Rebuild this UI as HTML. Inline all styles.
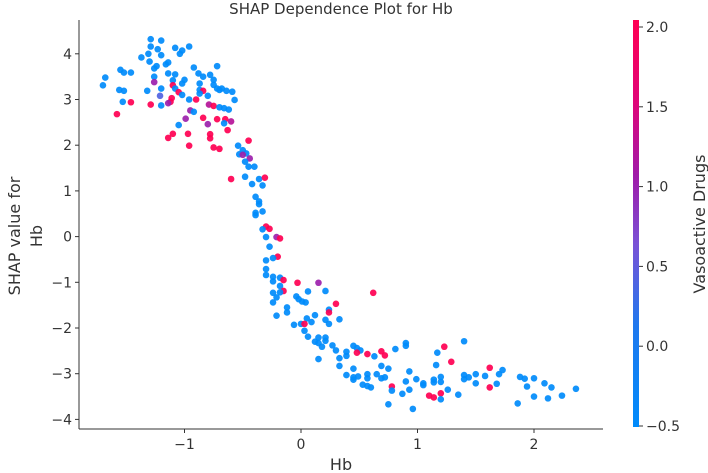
<!DOCTYPE html>
<html><head><meta charset="utf-8">
<style>
html,body{margin:0;padding:0;background:#fff;}
svg{display:block;font-family:"DejaVu Sans","Liberation Sans",sans-serif;}
</style></head>
<body>
<svg id="chart" width="708" height="473" viewBox="0 0 708 473" xmlns="http://www.w3.org/2000/svg">
<defs>
<linearGradient id="cbgrad" x1="0" y1="1" x2="0" y2="0">
<stop offset="0" stop-color="#008bfb"/>
<stop offset="0.25" stop-color="#1f78ee"/>
<stop offset="0.45" stop-color="#7a52d6"/>
<stop offset="0.62" stop-color="#a01aa8"/>
<stop offset="0.8" stop-color="#e00578"/>
<stop offset="1" stop-color="#ff0052"/>
</linearGradient>
</defs>
<text x="341" y="14" font-size="15" text-anchor="middle" fill="#333">SHAP Dependence Plot for Hb</text>
<g id="points"></g>
<g id="axes"></g>
<text x="341" y="470" font-size="16" text-anchor="middle" fill="#333">Hb</text>
<text transform="translate(20,236) rotate(-90)" font-size="16" text-anchor="middle" fill="#333"><tspan x="0" y="0">SHAP value for</tspan><tspan x="0" y="22">Hb</tspan></text>
<rect x="633" y="20" width="6" height="407" fill="url(#cbgrad)"/>
<g id="cbticks"></g>
<text transform="translate(705,224) rotate(-90)" font-size="16" text-anchor="middle" fill="#333">Vasoactive Drugs</text>
</svg>
<script>
const xTicks = [-1, 0, 1, 2];
const yTicks = [4, 3, 2, 1, 0, -1, -2, -3, -4];
const cbTicks = [2.0, 1.5, 1.0, 0.5, 0.0, -0.5];
const hbValues = [-1.29,-1.20,-1.29,-1.23,-1.08,-0.96,-1.02,-1.04,-1.31,-1.37,-1.20,-1.30,-1.14,-1.16,-1.24,-1.26,-0.72,-0.92,-1.55,-1.52,-1.46,-1.14,-1.08,-0.88,-1.26,-0.78,-0.84,-1.68,-1.00,-1.10,-0.75,-1.26,-1.02,-1.70,-0.87,-1.10,-1.08,-0.75,-0.72,-0.70,-0.87,-1.56,-1.52,-1.32,-1.20,-1.05,-0.84,-0.64,-0.59,-0.68,-0.87,-1.02,-0.80,-1.21,-1.11,-0.96,-0.90,-0.57,-1.53,-1.46,-1.12,-1.14,-1.29,-1.20,-0.79,-0.75,-0.70,-0.66,-0.62,-0.95,-0.92,-1.58,-0.84,-0.99,-0.72,-0.65,-0.60,-0.80,-0.66,-1.05,-0.63,-1.10,-0.97,-1.14,-0.78,-0.78,-0.96,-0.75,-0.70,-0.45,-0.54,-0.50,-0.53,-0.47,-0.50,-0.44,-0.48,-0.45,-0.40,-0.60,-0.48,-0.36,-0.31,-0.42,-0.33,
-0.39,-0.36,-0.36,-0.33,-0.39,-0.39,-0.30,-0.27,-0.33,-0.30,-0.21,-0.18,-0.27,-0.20,-0.24,-0.30,-0.30,-0.30,-0.24,-0.18,-0.15,-0.24,-0.18,-0.15,-0.24,-0.18,-0.21,-0.03,0.15,0.06,0.21,-0.04,-0.02,0.01,0.04,0.62,-0.24,-0.12,-0.12,0.30,0.24,0.24,-0.21,0.12,0.05,0.09,0.21,0.33,-0.06,0.00,0.03,0.24,
0.03,0.06,0.15,0.21,0.21,0.12,0.15,0.18,0.27,0.30,0.45,0.48,0.51,0.39,0.48,0.57,0.63,0.69,0.72,0.81,0.90,0.90,1.23,1.40,1.17,1.29,0.39,0.33,0.15,0.33,0.45,0.69,0.75,1.16,1.62,1.73,0.39,0.45,0.45,0.49,0.57,0.57,0.65,0.69,0.72,0.93,0.99,0.90,1.05,1.05,1.14,1.14,1.20,1.20,1.40,1.40,1.44,1.50,1.50,1.58,1.70,1.68,1.62,1.88,1.92,2.00,1.94,2.09,2.15,0.53,0.57,0.60,0.78,0.78,0.93,0.87,1.26,1.10,1.14,1.20,1.20,1.35,2.00,2.12,2.24,2.36,0.75,0.96,1.86];
const shapValues = [4.32,4.29,4.16,4.10,4.13,4.16,4.07,4.00,4.00,3.92,3.97,3.83,3.81,3.77,3.73,3.68,3.73,3.70,3.65,3.59,3.59,3.57,3.55,3.57,3.50,3.54,3.50,3.48,3.43,3.42,3.43,3.38,3.35,3.31,3.35,3.31,3.24,3.32,3.24,3.21,3.21,3.21,3.19,3.19,3.24,3.16,3.19,3.19,3.17,3.24,3.13,3.10,3.08,3.08,3.03,3.00,3.00,2.99,2.95,2.94,2.95,2.92,2.89,2.87,2.89,2.86,2.83,2.81,2.78,2.76,2.73,2.68,2.60,2.58,2.57,2.57,2.52,2.46,2.48,2.44,2.33,2.25,2.25,2.16,2.24,2.15,1.99,1.95,1.92,2.10,1.99,1.89,1.80,1.82,1.79,1.71,1.64,1.53,1.53,1.26,1.31,1.26,1.29,1.15,1.12,
0.87,0.77,0.71,0.55,0.52,0.47,0.22,0.17,0.16,-0.01,-0.01,-0.04,-0.22,-0.44,-0.47,-0.52,-0.71,-0.84,-0.88,-0.90,-0.95,-0.98,-1.08,-1.19,-1.23,-1.22,-1.33,-1.01,-1.01,-1.20,-1.19,-1.31,-1.37,-1.42,-1.44,-1.23,-1.44,-1.55,-1.66,-1.47,-1.60,-1.66,-1.73,-1.72,-1.79,-1.87,-1.82,-1.81,-1.93,-1.91,-1.91,-1.91,
-2.06,-2.19,-2.21,-2.21,-2.28,-2.30,-2.33,-2.41,-2.38,-2.49,-2.39,-2.44,-2.49,-2.52,-2.54,-2.57,-2.62,-2.51,-2.60,-2.46,-2.33,-2.39,-2.41,-2.29,-2.54,-2.74,-2.61,-2.66,-2.68,-2.83,-2.89,-2.83,-2.89,-2.81,-2.87,-2.92,-3.03,-3.08,-3.13,-3.06,-3.01,-3.10,-3.01,-3.10,-3.08,-2.95,-3.12,-3.17,-3.21,-3.25,-3.13,-3.19,-3.07,-3.18,-3.03,-3.12,-3.08,-3.01,-3.21,-3.05,-3.01,-3.22,-3.30,-3.07,-3.11,-3.10,-3.28,-3.21,-3.30,-3.24,-3.27,-3.30,-3.28,-3.37,-3.35,-3.44,-3.35,-3.48,-3.52,-3.43,-3.56,-3.46,-3.50,-3.54,-3.48,-3.33,-3.67,-3.77,-3.65];
const vasoValues = [-0.5,-0.5,-0.5,-0.5,-0.5,-0.5,-0.5,-0.5,-0.5,-0.5,-0.5,-0.5,-0.5,-0.5,-0.5,-0.5,-0.5,-0.5,-0.5,-0.5,-0.5,-0.5,-0.5,-0.5,-0.5,-0.5,-0.5,-0.5,-0.5,-0.5,-0.5,1.0,-0.5,-0.5,-0.5,2,-0.5,-0.5,-0.5,-0.5,-0.5,-0.5,-0.5,-0.5,-0.5,2,2,-0.5,-0.5,-0.5,-0.5,-0.5,-0.5,0.4,2,-0.5,2,-0.5,-0.5,2,2,1.0,2,-0.5,1.2,2,-0.5,-0.5,-0.5,1.0,-0.5,2,2,1.0,2,2,1.2,1.0,-0.5,-0.5,2,2,2,2,2,2,2,2,2,2,-0.5,-0.5,-0.5,-0.5,1.0,1.0,-0.5,-0.5,-0.5,2,-0.5,-0.5,2,-0.5,-0.5,
-0.5,-0.5,-0.5,-0.5,-0.5,-0.5,2,2,-0.5,-0.5,1.0,2,-0.5,2,-0.5,-0.5,-0.5,-0.5,-0.5,-0.5,2,-0.5,-0.5,2,-0.5,-0.5,-0.5,2,1.0,-0.5,-0.5,-0.5,-0.5,-0.5,-0.5,2,-0.5,-0.5,-0.5,2,-0.5,2,-0.5,-0.5,-0.5,-0.5,-0.5,-0.5,-0.5,-0.5,2,-0.5,
-0.5,-0.5,-0.5,-0.5,-0.5,-0.5,-0.5,-0.5,-0.5,-0.5,-0.5,-0.5,-0.5,-0.5,2,2,-0.5,2,2,-0.5,-0.5,-0.5,2,-0.5,-0.5,2,-0.5,-0.5,-0.5,-0.5,-0.5,-0.5,-0.5,-0.5,2,-0.5,-0.5,-0.5,-0.5,-0.5,-0.5,-0.5,-0.5,-0.5,-0.5,-0.5,-0.5,-0.5,-0.5,-0.5,-0.5,-0.5,-0.5,-0.5,-0.5,-0.5,-0.5,-0.5,-0.5,-0.5,-0.5,-0.5,2,-0.5,-0.5,-0.5,-0.5,-0.5,-0.5,-0.5,-0.5,-0.5,2,-0.5,-0.5,-0.5,-0.5,2,2,2,-0.5,-0.5,-0.5,-0.5,-0.5,-0.5,-0.5,-0.5,-0.5];

const NS = "http://www.w3.org/2000/svg";
const plot = {left:79, right:603, top:20, bottom:429};
function xScale(v){ return 301 + v*116.5; }
function yScale(v){ return 236.6 - v*45.7; }
function cbScale(v){ return 426 - (v+0.5)*159.6; }
const stops = [[0,[0,139,251]],[0.25,[31,120,238]],[0.45,[122,82,214]],[0.62,[160,26,168]],[0.8,[224,5,120]],[1,[255,0,82]]];
function colorFor(v){
  let t = Math.max(0, Math.min(1, (v+0.5)/2.5));
  for (let i=1;i<stops.length;i++){
    if (t<=stops[i][0]){
      const a=stops[i-1], b=stops[i], f=(t-a[0])/(b[0]-a[0]);
      const c=a[1].map((x,k)=>Math.round(x+(b[1][k]-x)*f));
      return "rgb("+c.join(",")+")";
    }
  }
  return "rgb(255,0,82)";
}
function mk(tag, attrs){ const e=document.createElementNS(NS,tag); for(const k in attrs) e.setAttribute(k,attrs[k]); return e; }

const axes = document.getElementById("axes");
const yAxis = mk("line",{x1:plot.left,y1:plot.top,x2:plot.left,y2:plot.bottom,stroke:"#333","stroke-width":1});


axes.appendChild(yAxis);
const xAxis = mk("line",{x1:plot.left,y1:plot.bottom,x2:plot.right,y2:plot.bottom,stroke:"#333","stroke-width":1});


axes.appendChild(xAxis);

xTicks.forEach(t=>{
  const x = xScale(t);
  const ln = mk("line",{x1:x,y1:plot.bottom,x2:x,y2:plot.bottom+4,stroke:"#333"});
  
  
  axes.appendChild(ln);
  const tx = mk("text",{x:x,y:plot.bottom+20,"font-size":14,"text-anchor":"middle",fill:"#333"});
  tx.textContent = (t<0?"\u2212"+Math.abs(t):String(t));
  
  
  axes.appendChild(tx);
});
yTicks.forEach(t=>{
  const y = yScale(t);
  const ln = mk("line",{x1:plot.left-4,y1:y,x2:plot.left,y2:y,stroke:"#333"});
  
  
  axes.appendChild(ln);
  const tx = mk("text",{x:plot.left-7,y:y+5,"font-size":14,"text-anchor":"end",fill:"#333"});
  tx.textContent = (t<0?"\u2212"+Math.abs(t):String(t));
  
  
  axes.appendChild(tx);
});
const cbg = document.getElementById("cbticks");
cbTicks.forEach(t=>{
  const y = cbScale(t);
  const ln = mk("line",{x1:639,y1:y,x2:643,y2:y,stroke:"#333"});
  
  
  cbg.appendChild(ln);
  const tx = mk("text",{x:646,y:y+5,"font-size":14,fill:"#333"});
  tx.textContent = (t<0?"\u2212"+Math.abs(t).toFixed(1):t.toFixed(1));
  
  
  cbg.appendChild(tx);
});

const pg = document.getElementById("points");
hbValues.forEach((hb,i)=>{
  const c = mk("circle",{cx:xScale(hb),cy:yScale(shapValues[i]),r:3.3,fill:colorFor(vasoValues[i]),"fill-opacity":0.92});
  
  
  pg.appendChild(c);
});
</script>
</body></html>
